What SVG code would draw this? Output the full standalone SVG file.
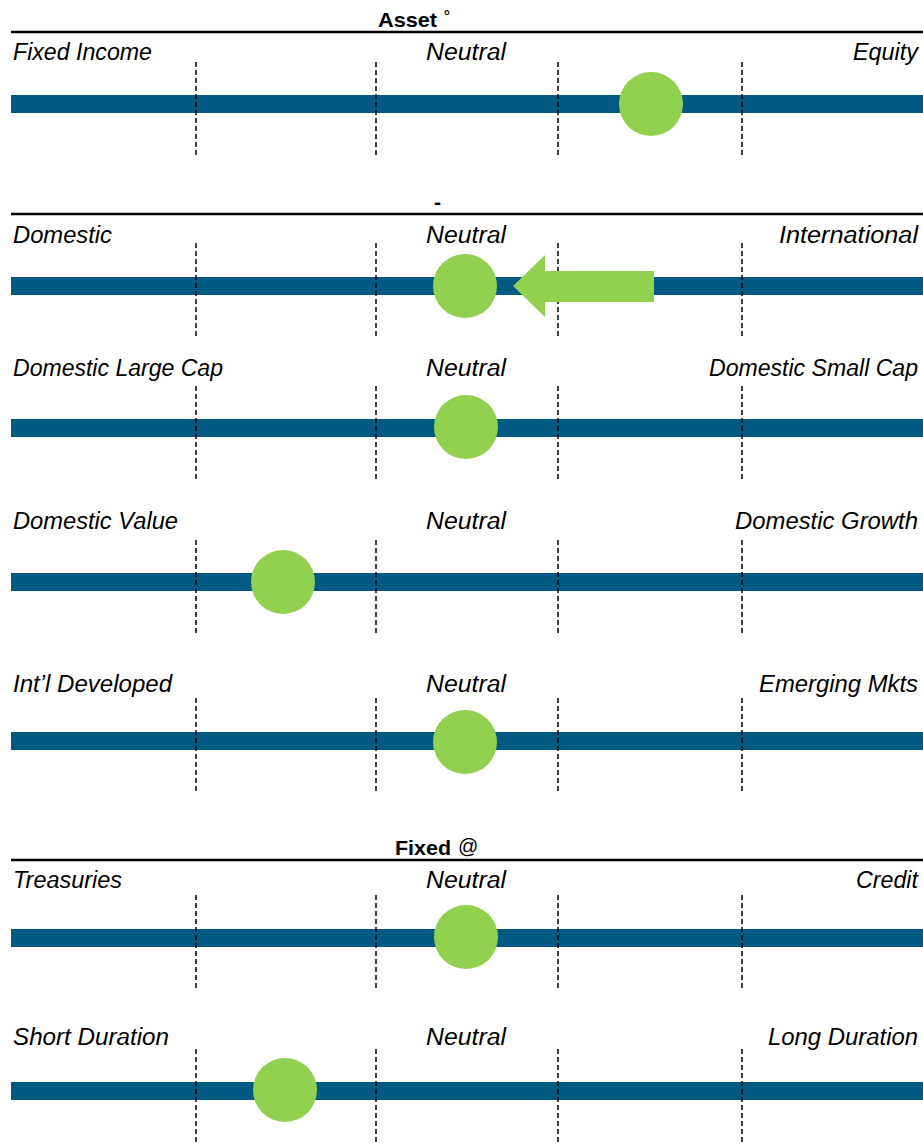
<svg xmlns="http://www.w3.org/2000/svg" width="923" height="1144" viewBox="0 0 923 1144">
<style>
.bar{fill:#005A82}
.dot{fill:#92D050}
.dash{stroke:#000;stroke-width:1.5;stroke-dasharray:5 3;fill:none}
.rule{stroke:#000;stroke-width:2.5}
.lbl{font-family:"Liberation Sans",Arial,sans-serif;font-style:italic;font-size:23px;fill:#000}
.hdr{font-family:"Liberation Sans",Arial,sans-serif;font-weight:bold;font-size:21px;fill:#000}
.sym{font-family:"Liberation Sans",Arial,sans-serif;font-size:20px;fill:#000}
</style>
<rect width="923" height="1144" fill="#fff"/>
<g id="headers">
<text class="hdr" x="378" y="27" textLength="59" lengthAdjust="spacingAndGlyphs">Asset</text>
<text class="sym" x="444" y="27">˚</text>
<line class="rule" x1="11" y1="32" x2="923" y2="32"/>
<text class="hdr" x="434" y="209">-</text>
<line class="rule" x1="11" y1="214" x2="923" y2="214"/>
<text class="hdr" x="395" y="855" textLength="56" lengthAdjust="spacingAndGlyphs">Fixed</text>
<text class="sym" x="458" y="853">@</text>
<line class="rule" x1="11" y1="860" x2="923" y2="860"/>
</g>
<g id="row1">
<rect class="bar" x="11" y="95" width="912" height="18"/>
<path class="dash" d="M196 62V157M376 62V157M558 62V157M742 62V157"/>
<circle class="dot" cx="651" cy="104" r="32"/>
<text class="lbl" x="13" y="60" textLength="139" lengthAdjust="spacingAndGlyphs">Fixed Income</text>
<text class="lbl" x="426" y="60" textLength="80" lengthAdjust="spacingAndGlyphs">Neutral</text>
<text class="lbl" x="853" y="60" textLength="65" lengthAdjust="spacingAndGlyphs">Equity</text>
</g>
<g id="row2">
<rect class="bar" x="11" y="277" width="912" height="18"/>
<path class="dash" d="M196 243V338M376 243V338M558 243V338M742 243V338"/>
<circle class="dot" cx="465" cy="286" r="32"/>
<polygon class="dot" points="513,286 545,255 545,271 654,271 654,302 545,302 545,317"/>
<text class="lbl" x="13" y="243" textLength="99" lengthAdjust="spacingAndGlyphs">Domestic</text>
<text class="lbl" x="426" y="243" textLength="80" lengthAdjust="spacingAndGlyphs">Neutral</text>
<text class="lbl" x="779" y="243" textLength="139" lengthAdjust="spacingAndGlyphs">International</text>
</g>
<g id="row3">
<rect class="bar" x="11" y="419" width="912" height="18"/>
<path class="dash" d="M196 386V481M376 386V481M558 386V481M742 386V481"/>
<circle class="dot" cx="466" cy="427" r="32"/>
<text class="lbl" x="13" y="376" textLength="210" lengthAdjust="spacingAndGlyphs">Domestic Large Cap</text>
<text class="lbl" x="426" y="376" textLength="80" lengthAdjust="spacingAndGlyphs">Neutral</text>
<text class="lbl" x="709" y="376" textLength="209" lengthAdjust="spacingAndGlyphs">Domestic Small Cap</text>
</g>
<g id="row4">
<rect class="bar" x="11" y="573" width="912" height="18"/>
<path class="dash" d="M196 540V635M376 540V635M558 540V635M742 540V635"/>
<circle class="dot" cx="283" cy="582" r="32"/>
<text class="lbl" x="13" y="529" textLength="165" lengthAdjust="spacingAndGlyphs">Domestic Value</text>
<text class="lbl" x="426" y="529" textLength="80" lengthAdjust="spacingAndGlyphs">Neutral</text>
<text class="lbl" x="735" y="529" textLength="183" lengthAdjust="spacingAndGlyphs">Domestic Growth</text>
</g>
<g id="row5">
<rect class="bar" x="11" y="732" width="912" height="18"/>
<path class="dash" d="M196 698V793M376 698V793M558 698V793M742 698V793"/>
<circle class="dot" cx="465" cy="742" r="32"/>
<text class="lbl" x="13" y="692" textLength="159" lengthAdjust="spacingAndGlyphs">Int’l Developed</text>
<text class="lbl" x="426" y="692" textLength="80" lengthAdjust="spacingAndGlyphs">Neutral</text>
<text class="lbl" x="759" y="692" textLength="159" lengthAdjust="spacingAndGlyphs">Emerging Mkts</text>
</g>
<g id="row6">
<rect class="bar" x="11" y="929" width="912" height="18"/>
<path class="dash" d="M196 895V990M376 895V990M558 895V990M742 895V990"/>
<circle class="dot" cx="466" cy="937" r="32"/>
<text class="lbl" x="13" y="888" textLength="109" lengthAdjust="spacingAndGlyphs">Treasuries</text>
<text class="lbl" x="426" y="888" textLength="80" lengthAdjust="spacingAndGlyphs">Neutral</text>
<text class="lbl" x="856" y="888" textLength="62" lengthAdjust="spacingAndGlyphs">Credit</text>
</g>
<g id="row7">
<rect class="bar" x="11" y="1082" width="912" height="18"/>
<path class="dash" d="M196 1049V1144M376 1049V1144M558 1049V1144M742 1049V1144"/>
<circle class="dot" cx="285" cy="1090" r="32"/>
<text class="lbl" x="13" y="1045" textLength="156" lengthAdjust="spacingAndGlyphs">Short Duration</text>
<text class="lbl" x="426" y="1045" textLength="80" lengthAdjust="spacingAndGlyphs">Neutral</text>
<text class="lbl" x="768" y="1045" textLength="150" lengthAdjust="spacingAndGlyphs">Long Duration</text>
</g>
</svg>
